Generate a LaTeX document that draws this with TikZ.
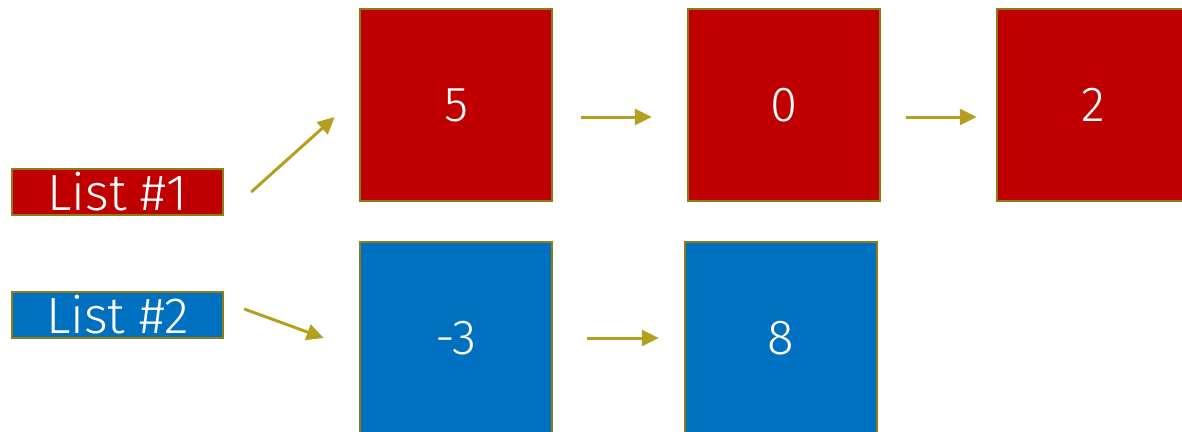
\documentclass[tikz,border=0pt]{standalone}
\usepackage{fontspec}
\setmainfont{Fira Sans}[UprightFont={* Light}]
\usetikzlibrary{arrows.meta}

\definecolor{cellred}{RGB}{192,0,0}
\definecolor{cellblue}{RGB}{0,112,192}
\definecolor{rim}{RGB}{140,125,20}
\definecolor{link}{RGB}{180,160,30}

\tikzset{cell/.style={draw=rim, line width=1.4pt, minimum width=3.84cm, minimum height=3.84cm, text=white, font=\fontsize{28}{30}\selectfont}}
\tikzset{head/.style={draw=rim, line width=1.4pt, minimum width=4.22cm, minimum height=0.92cm, inner sep=0pt, text=white, font=\fontsize{29}{30}\selectfont}}
\tikzset{link/.style={draw=link, line width=1.7pt, -{Triangle[length=0.34cm,width=0.32cm]}}}

\begin{document}
\begin{tikzpicture}
	\useasboundingbox (0,0) rectangle (23.64,-8.62);

	\node[head, fill=cellred] (list1) at (2.35,-3.84) {List \#1};
	\node[head, fill=cellblue] (list2) at (2.35,-6.30) {List \#2};

	\node[cell, fill=cellred] (five) at (9.12,-2.10) {5};
	\node[cell, fill=cellred] (zero) at (15.68,-2.10) {0};
	\node[cell, fill=cellred] (two) at (21.86,-2.10) {2};

	\node[cell, fill=cellblue] (minusthree) at (9.12,-6.76) {-3};
	\node[cell, fill=cellblue] (eight) at (15.62,-6.76) {8};

	% arrow ends
	\coordinate (l1out) at ([xshift=0.54cm]list1.east);
	\coordinate (fivein) at ([xshift=-0.48cm,yshift=-0.24cm]five.west);
	\coordinate (fiveout) at ([xshift=0.56cm,yshift=-0.24cm]five.east);
	\coordinate (zeroin) at ([xshift=-0.70cm,yshift=-0.24cm]zero.west);
	\coordinate (zeroout) at ([xshift=0.50cm,yshift=-0.24cm]zero.east);
	\coordinate (twoin) at ([xshift=-0.38cm,yshift=-0.24cm]two.west);
	\coordinate (l2out) at ([xshift=0.40cm,yshift=0.12cm]list2.east);
	\coordinate (threein) at ([xshift=-0.70cm]minusthree.west);
	\coordinate (threeout) at ([xshift=0.68cm]minusthree.east);
	\coordinate (eightin) at ([xshift=-0.50cm]eight.west);

	\draw[link] (l1out) -- (fivein);
	\draw[link] (fiveout) -- (zeroin);
	\draw[link] (zeroout) -- (twoin);
	\draw[link] (l2out) -- (threein);
	\draw[link] (threeout) -- (eightin);
\end{tikzpicture}
\end{document}
